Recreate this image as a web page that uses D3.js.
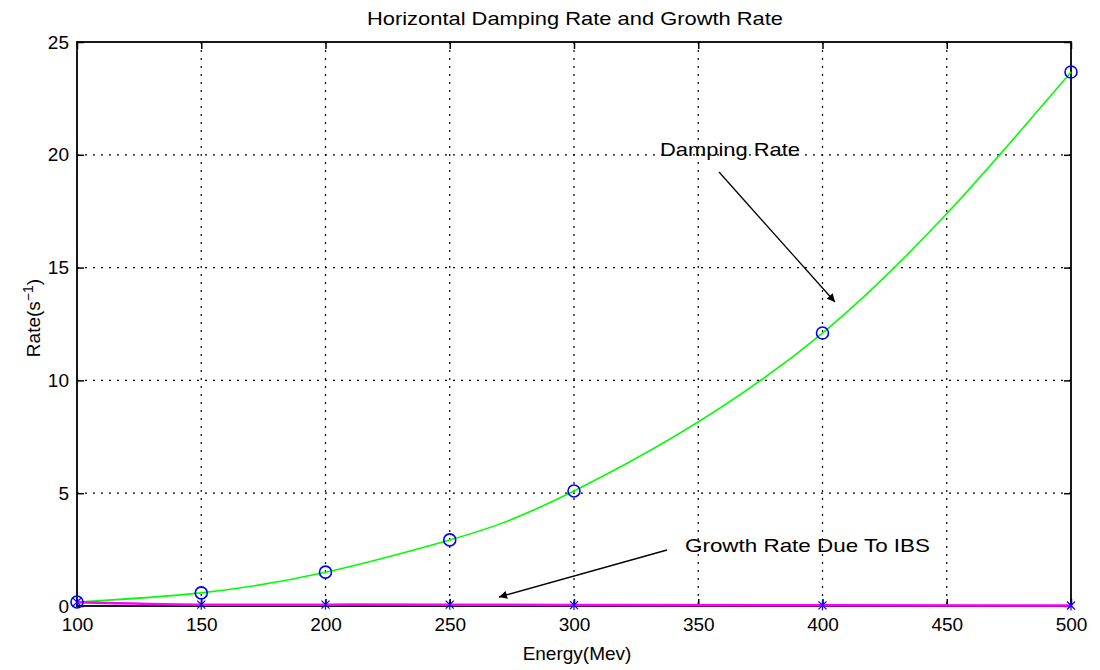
<!DOCTYPE html>
<html>
<head>
<meta charset="utf-8">
<script src="https://cdn.jsdelivr.net/npm/d3@7"></script>
<style>
  html, body { margin: 0; padding: 0; background: #fff; }
  text { font-family: "Liberation Sans", Arial, sans-serif; fill: #000; }
</style>
</head>
<body>
<svg id="chart" width="1100" height="670"></svg>
<script>
const energy = [100, 150, 200, 250, 300, 400, 500];
const dampingRate = [0.18, 0.58, 1.5, 2.93, 5.1, 12.1, 23.67];
const growthRate = [0.17, 0.06, 0.06, 0.06, 0.04, 0.03, 0.02];
const xTicks = [100, 150, 200, 250, 300, 350, 400, 450, 500];
const yTicks = [0, 5, 10, 15, 20, 25];
const titleText = "Horizontal Damping Rate and Growth Rate";
const xLabel = "Energy(Mev)";
const dampLabel = "Damping Rate";
const growthLabel = "Growth Rate Due To IBS";

const svg = d3.select("#chart");
const L = 77, R = 1071, T = 42, B = 606;
const x = d3.scaleLinear().domain([100, 500]).range([L, R]);
const y = d3.scaleLinear().domain([0, 25]).range([B, T]);

// grid
const grid = svg.append("g");
grid.selectAll("line.gx").data(xTicks.slice(1, -1)).join("line")
  .attr("x1", d => x(d)).attr("x2", d => x(d)).attr("y1", T).attr("y2", B)
  .attr("stroke", "#000").attr("stroke-width", 1.2).attr("stroke-dasharray", "2,6");
grid.selectAll("line.gy").data(yTicks.slice(1, -1)).join("line")
  .attr("y1", d => y(d)).attr("y2", d => y(d)).attr("x1", L).attr("x2", R)
  .attr("stroke", "#000").attr("stroke-width", 1.2).attr("stroke-dasharray", "2,6");

// axes (ticks inward)
const fs = 19;
const axB = svg.append("g").attr("transform", `translate(0,${B})`)
  .call(d3.axisBottom(x).tickValues(xTicks).tickSize(-7).tickPadding(12).tickFormat(d3.format("d")));
const axL = svg.append("g").attr("transform", `translate(${L},0)`)
  .call(d3.axisLeft(y).tickValues(yTicks).tickSize(-7).tickPadding(8).tickFormat(d3.format("d")));
const axT = svg.append("g").attr("transform", `translate(0,${T})`)
  .call(d3.axisTop(x).tickValues(xTicks).tickSize(-7).tickFormat(""));
const axR = svg.append("g").attr("transform", `translate(${R},0)`)
  .call(d3.axisRight(y).tickValues(yTicks).tickSize(-7).tickFormat(""));
[axB, axL, axT, axR].forEach(a => {
  a.select(".domain").remove();
  a.selectAll(".tick line").attr("stroke", "#000").attr("stroke-width", 1.5);
  a.selectAll("text").style("font-size", fs + "px").style("font-family", "Liberation Sans, Arial, sans-serif").attr("fill", "#000");
});

// box
svg.append("rect").attr("x", L).attr("y", T).attr("width", R - L).attr("height", B - T)
  .attr("fill", "none").attr("stroke", "#000").attr("stroke-width", 1.8);

// damping line
const dampPts = energy.map((e, i) => [e, dampingRate[i]]);
svg.append("path").datum(dampPts)
  .attr("d", d3.line().x(d => x(d[0])).y(d => y(d[1])).curve(d3.curveNatural))
  .attr("fill", "none").attr("stroke", "#00ff00").attr("stroke-width", 1.6);

// growth line
const growPts = energy.map((e, i) => [e, growthRate[i]]);
svg.append("path").datum(growPts)
  .attr("d", d3.line().x(d => x(d[0])).y(d => y(d[1])).curve(d3.curveNatural))
  .attr("fill", "none").attr("stroke", "#ff00ff").attr("stroke-width", 2.5);

// circle markers
svg.selectAll("circle.dm").data(dampPts).join("circle")
  .attr("cx", d => x(d[0])).attr("cy", d => y(d[1])).attr("r", 6)
  .attr("fill", "none").attr("stroke", "#0000ff").attr("stroke-width", 1.6);

// star markers
const star = svg.append("g");
growPts.forEach(d => {
  const cx = x(d[0]), cy = y(d[1]), s = 4;
  const g = star.append("g").attr("stroke", "#0000ff").attr("stroke-width", 1.2);
  g.append("line").attr("x1", cx - s).attr("x2", cx + s).attr("y1", cy - s).attr("y2", cy + s);
  g.append("line").attr("x1", cx - s).attr("x2", cx + s).attr("y1", cy + s).attr("y2", cy - s);
  g.append("line").attr("x1", cx).attr("x2", cx).attr("y1", cy - s - 1).attr("y2", cy + s + 1);
});

// arrows
const defs = svg.append("defs");
defs.append("marker").attr("id", "ah").attr("viewBox", "0 0 10 10").attr("refX", 10).attr("refY", 5)
  .attr("markerWidth", 12).attr("markerHeight", 8).attr("markerUnits", "userSpaceOnUse").attr("orient", "auto")
  .append("path").attr("d", "M0,0 L10,5 L0,10 Z").attr("fill", "#000");

svg.append("line").attr("x1", 719).attr("y1", 172).attr("x2", 835).attr("y2", 302)
  .attr("stroke", "#000").attr("stroke-width", 1.3).attr("marker-end", "url(#ah)");
svg.append("line").attr("x1", 667).attr("y1", 550).attr("x2", 499).attr("y2", 597)
  .attr("stroke", "#000").attr("stroke-width", 1.3).attr("marker-end", "url(#ah)");

// annotation texts
svg.append("text").attr("x", 660).attr("y", 156).style("font-size", fs + "px")
  .attr("textLength", 140).attr("lengthAdjust", "spacingAndGlyphs").text(dampLabel);
svg.append("text").attr("x", 685).attr("y", 552).style("font-size", fs + "px")
  .attr("textLength", 245).attr("lengthAdjust", "spacingAndGlyphs").text(growthLabel);

// title
svg.append("text").attr("x", 575).attr("y", 25).attr("text-anchor", "middle").style("font-size", fs + "px")
  .attr("textLength", 416).attr("lengthAdjust", "spacingAndGlyphs").text(titleText);

// x label
svg.append("text").attr("x", 577).attr("y", 660).attr("text-anchor", "middle").style("font-size", fs + "px").text(xLabel);

// y label
const yl = svg.append("text").attr("transform", "translate(40,318) rotate(-90)").attr("text-anchor", "middle").style("font-size", fs + "px");
yl.append("tspan").text("Rate(s");
yl.append("tspan").attr("dy", -7).style("font-size", "14px").text("−1");
yl.append("tspan").attr("dy", 7).text(")");
</script>
</body>
</html>
